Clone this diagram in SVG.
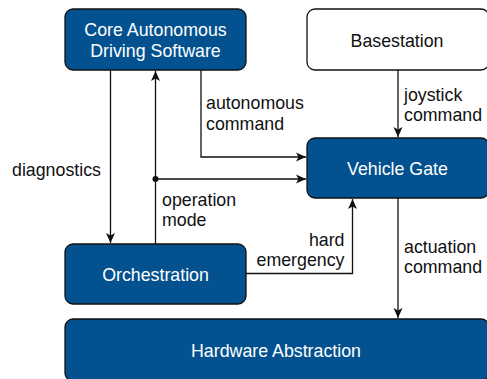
<svg xmlns="http://www.w3.org/2000/svg" width="487" height="379" viewBox="0 0 487 379">
<style>
.box{fill:#03528f;stroke:#111;stroke-width:1.3}
.wbox{fill:#fff;stroke:#111;stroke-width:1.3}
.t{font-family:"Liberation Sans",Arial,sans-serif;font-size:17.8px}
.w{fill:#fff;text-anchor:middle}
.k{fill:#111}
.c{fill:none;stroke:#111;stroke-width:1.3}
</style>
<defs>
<marker id="arr" markerUnits="userSpaceOnUse" markerWidth="12" markerHeight="10" refX="11" refY="5" orient="auto">
<path d="M1,0.5 L11,5 L1,9.5 L3.5,5 Z" fill="#111"/>
</marker>
</defs>
<g id="connectors">
<path class="c" d="M110.5,70 V243" marker-end="url(#arr)"/>
<path class="c" d="M155.5,244 V71" marker-end="url(#arr)"/>
<path class="c" d="M155.5,179 H306" marker-end="url(#arr)"/>
<path class="c" d="M201,70 V157 H306" marker-end="url(#arr)"/>
<path class="c" d="M398,70 V137" marker-end="url(#arr)"/>
<path class="c" d="M246,273.5 H352.5 V199" marker-end="url(#arr)"/>
<path class="c" d="M398,198 V318" marker-end="url(#arr)"/>
<circle cx="155.5" cy="179" r="3" fill="#111"/>
<text class="t k" x="12" y="175.5">diagnostics</text>
<text class="t k" x="206" y="109">autonomous</text>
<text class="t k" x="206" y="129.5">command</text>
<text class="t k" x="404" y="101">joystick</text>
<text class="t k" x="404" y="121">command</text>
<text class="t k" x="162" y="205.5">operation</text>
<text class="t k" x="162" y="225.5">mode</text>
<text class="t k" x="344.5" y="246" text-anchor="end">hard</text>
<text class="t k" x="344.5" y="266" text-anchor="end">emergency</text>
<text class="t k" x="404" y="252.5">actuation</text>
<text class="t k" x="404" y="272.5">command</text>
</g>
<g id="core">
<rect class="box" x="65" y="9" width="181" height="61" rx="8"/>
<text class="t w" x="155.5" y="36">Core Autonomous</text>
<text class="t w" x="155.5" y="57">Driving Software</text>
</g>
<g id="basestation">
<rect class="wbox" x="307" y="9" width="182" height="61" rx="8"/>
<text class="t k" x="397" y="46.5" text-anchor="middle">Basestation</text>
</g>
<g id="vehicle-gate">
<rect class="box" x="307" y="138" width="182" height="60" rx="8"/>
<text class="t w" x="397.5" y="174.5">Vehicle Gate</text>
</g>
<g id="orchestration">
<rect class="box" x="65" y="244" width="181" height="60" rx="8"/>
<text class="t w" x="155.5" y="280.5">Orchestration</text>
</g>
<g id="hardware-abstraction">
<rect class="box" x="65" y="319" width="424" height="62" rx="8"/>
<text class="t w" x="276" y="356.5">Hardware Abstraction</text>
</g>
</svg>
